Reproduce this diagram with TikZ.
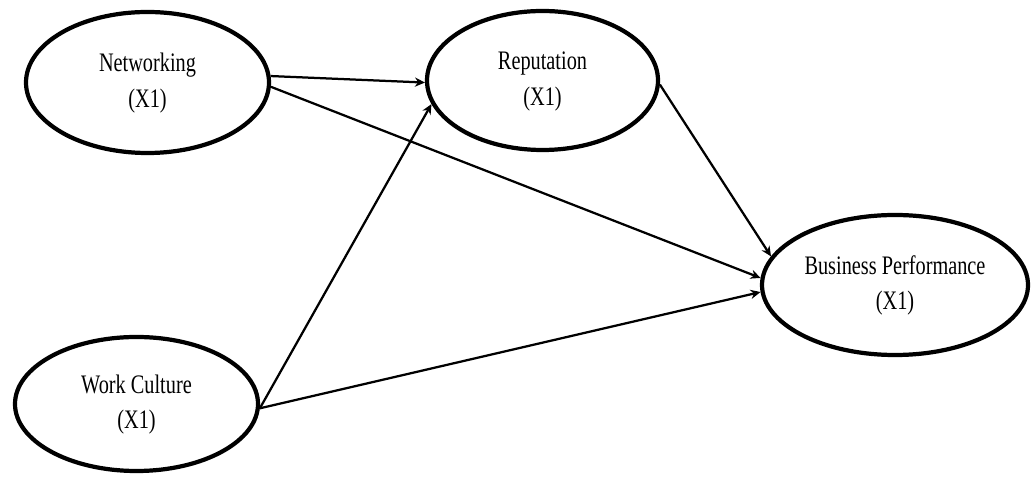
\documentclass[tikz,border=0pt]{standalone}
\usepackage{fontspec}
\setmainfont{Liberation Serif}
\usepackage{tikz}
\usetikzlibrary{arrows.meta,shapes.geometric}

% narrow two-line label, as in the figure
\newcommand{\vlabel}[2]{\scalebox{0.76}[1]{\begin{tabular}{@{}c@{}}#1\\#2\end{tabular}}}

\begin{document}
\begin{tikzpicture}[
  var/.style={ellipse, draw, line width=3pt, inner sep=0pt, align=center, font=\fontsize{19}{25}\selectfont},
  arr/.style={-{Stealth[length=2.5mm,width=2.3mm]}, line width=1.6pt}
]
\useasboundingbox (0,0) rectangle (25.775,11.925);
\node[var, minimum width=6.075cm, minimum height=3.525cm] (net) at (3.6875,9.8625) {\vlabel{Networking}{(X1)}};
\node[var, minimum width=5.775cm, minimum height=3.475cm] (rep) at (13.5625,9.9125) {\vlabel{Reputation}{(X1)}};
\node[var, minimum width=6.075cm, minimum height=3.35cm] (wc) at (3.4125,1.825) {\vlabel{Work Culture}{(X1)}};
\node[var, minimum width=6.65cm, minimum height=3.5cm] (bp) at (22.375,4.8) {\vlabel{Business Performance}{(X1)}};
\draw[arr] (net.3.5) -- (rep.181.7);
\draw[arr] (net.-2) -- (bp.177);
\draw[arr] (wc.-2.8) -- (rep.192.7);
\draw[arr] (wc.-2.8) -- (bp.183.8);
\draw[arr] (rep.-2) -- (bp.167.3);
\end{tikzpicture}
\end{document}
